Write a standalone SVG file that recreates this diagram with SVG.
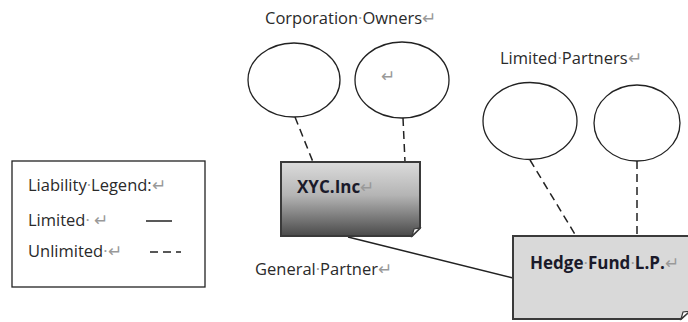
<svg xmlns="http://www.w3.org/2000/svg" width="688" height="322" viewBox="0 0 688 322">
<defs>
<linearGradient id="gXYC" x1="0" y1="0" x2="0" y2="1">
<stop offset="0" stop-color="#dcdcdc"/>
<stop offset="0.45" stop-color="#b4b4b4"/>
<stop offset="1" stop-color="#4a4a4a"/>
</linearGradient>
<style>
text{font-family:"Open Sans","Liberation Sans",sans-serif;font-size:16.5px;fill:#2a2a2a}
.b{font-weight:bold;font-size:17px;fill:#1a1a2a}
.m{fill:#999}
.ell{fill:#fff;stroke:#222;stroke-width:1.3}
.box{stroke:#3a3a3a;stroke-width:2}
.solid{stroke:#222;stroke-width:1.5;fill:none}
.dash{stroke:#222;stroke-width:1.5;fill:none;stroke-dasharray:8,5}
.fold{fill:#fff;stroke:#3a3a3a;stroke-width:1.2}
</style>
</defs>
<g id="legend">
<rect x="12" y="161" width="193" height="126" fill="#fff" stroke="#222" stroke-width="1.3"/>
<text x="28" y="191">Liability<tspan class="m">·</tspan>Legend:<tspan class="m">↵</tspan></text>
<text x="28" y="226">Limited<tspan class="m">· ↵</tspan></text>
<line class="solid" x1="146" y1="221" x2="172" y2="221"/>
<text x="28" y="257">Unlimited<tspan class="m">·↵</tspan></text>
<line class="dash" x1="150" y1="252" x2="181" y2="252" stroke-dasharray="4,3"/>
</g>
<g id="labels">
<text x="265" y="24">Corporation<tspan class="m">·</tspan>Owners<tspan class="m">↵</tspan></text>
<text x="500" y="64">Limited<tspan class="m">·</tspan>Partners<tspan class="m">↵</tspan></text>
<text x="255" y="275">General<tspan class="m">·</tspan>Partner<tspan class="m">↵</tspan></text>
</g>
<g id="connectors">
<line class="dash" x1="295" y1="117" x2="313" y2="162"/>
<line class="dash" x1="403" y1="118" x2="405" y2="162"/>
<line class="dash" x1="530" y1="160" x2="576" y2="236"/>
<line class="dash" x1="637" y1="161" x2="637" y2="236"/>
<line class="solid" x1="348" y1="237" x2="513" y2="278"/>
</g>
<g id="owner1"><ellipse class="ell" cx="294" cy="80" rx="46" ry="37"/></g>
<g id="owner2"><ellipse class="ell" cx="402" cy="80" rx="47" ry="38"/><text class="m" x="381" y="82" font-size="13">↵</text></g>
<g id="lp1"><ellipse class="ell" cx="530" cy="121" rx="47" ry="38.5"/></g>
<g id="lp2"><ellipse class="ell" cx="637" cy="123" rx="43" ry="38"/></g>
<g id="xyc">
<path class="box" d="M281,162 H420 V228 L412,236 H281 Z" fill="url(#gXYC)"/>
<path class="fold" d="M412,236 L414,229 L420,228 Z"/>
<text class="b" x="297" y="193">XYC.Inc<tspan class="m" font-weight="normal">↵</tspan></text>
</g>
<g id="hedge">
<path class="box" d="M513,236 H690 V311 L681,319 H513 Z" fill="#d9d9d9"/>
<path class="fold" d="M681,319 L683,312 L690,311 Z"/>
<text class="b" x="530" y="269">Hedge<tspan class="m" font-weight="normal">·</tspan>Fund<tspan class="m" font-weight="normal">·</tspan>L.P.<tspan class="m" font-weight="normal">↵</tspan></text>
</g>
</svg>
